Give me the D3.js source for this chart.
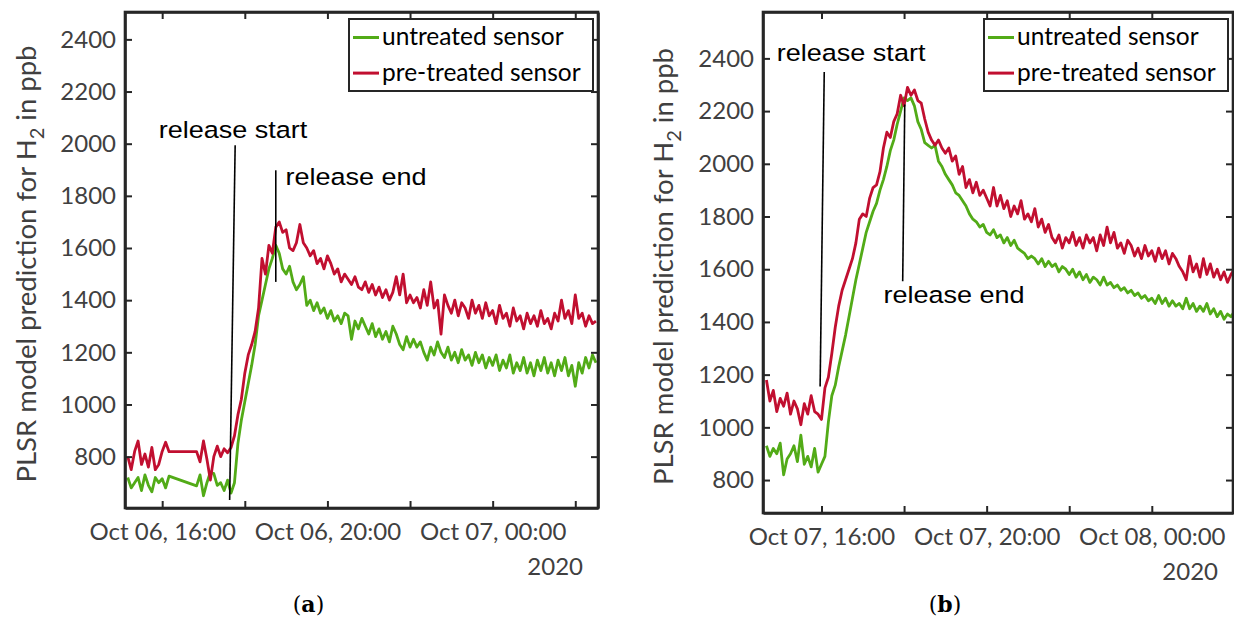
<!DOCTYPE html>
<html>
<head>
<meta charset="utf-8">
<script src="https://cdn.jsdelivr.net/npm/d3@7"></script>
<style>
  body { margin: 0; background: #fff; }
  svg { display: block; }
</style>
</head>
<body>
<script>
// ---- data (5 minute steps) ----
// panel (a): first sample Oct 06 15:10, null = no data (line bridges the gap)
var untreatedA = [
  720,680,700,720,670,730,690,665,720,700,
  715,680,725,null,null,null,null,null,null,null,
  688,730,650,700,740,735,690,700,670,710,
  660,700,850,940,1010,1080,1150,1230,1340,1400,
  1460,1520,1560,1610,1580,1520,1500,1530,1470,1440,
  1460,1490,1380,1400,1360,1390,1350,1370,1330,1360,
  1320,1340,1310,1350,1340,1250,1320,1290,1330,1300,
  1270,1310,1260,1290,1250,1280,1240,1300,1270,1230,
  1210,1260,1220,1250,1220,1240,1200,1170,1220,1190,
  1240,1200,1180,1220,1170,1200,1160,1210,1170,1190,
  1150,1200,1160,1190,1140,1180,1150,1190,1130,1170,
  1140,1190,1120,1160,1130,1180,1120,1160,1110,1170,
  1130,1180,1120,1160,1110,1170,1130,1180,1110,1150,
  1070,1160,1120,1180,1140,1190,1160
];
var pretreatedA = [
  800,750,820,860,770,810,760,835,750,770,
  820,855,819,null,null,null,null,null,null,null,
  819,780,860,790,710,800,840,800,830,815,
  835,880,960,1020,1120,1190,1230,1280,1370,1560,
  1500,1610,1580,1680,1700,1660,1670,1600,1590,1620,
  1690,1620,1600,1570,1590,1540,1560,1520,1570,1540,
  1500,1520,1470,1500,1480,1460,1490,1450,1440,1470,
  1430,1460,1420,1450,1410,1440,1400,1430,1490,1420,
  1500,1390,1420,1390,1410,1370,1440,1380,1470,1370,
  1400,1270,1420,1380,1350,1400,1340,1390,1370,1330,
  1400,1350,1380,1330,1390,1340,1360,1310,1380,1330,
  1350,1300,1370,1320,1340,1290,1350,1310,1340,1300,
  1360,1310,1330,1290,1350,1320,1400,1330,1360,1310,
  1420,1330,1350,1300,1340,1310,1320
];
// panel (b): first sample Oct 07 14:40
var untreatedB = [
  930,890,920,900,940,820,880,900,930,870,
  970,860,890,850,920,830,860,890,1020,1120,
  1160,1230,1290,1350,1420,1490,1560,1620,1680,1740,
  1780,1820,1850,1900,1940,1990,2050,2090,2150,2200,
  2250,2240,2250,2220,2160,2130,2080,2070,2060,2070,
  2010,1990,1960,1940,1920,1890,1880,1860,1840,1810,
  1790,1780,1760,1770,1740,1730,1750,1720,1730,1700,
  1720,1690,1710,1680,1670,1660,1640,1650,1640,1620,
  1640,1610,1630,1610,1620,1590,1610,1600,1580,1600,
  1570,1590,1560,1580,1550,1570,1560,1540,1570,1540,
  1550,1530,1540,1520,1530,1510,1520,1500,1510,1490,
  1500,1480,1490,1470,1500,1470,1490,1460,1480,1460,
  1470,1450,1490,1450,1470,1440,1460,1440,1470,1430,
  1450,1420,1440,1410,1430,1420,1440
];
var pretreatedB = [
  1180,1100,1140,1060,1110,1080,1130,1050,1100,1070,
  1010,1090,1050,1120,1060,1050,1030,1150,1190,1280,
  1380,1460,1520,1560,1600,1640,1700,1790,1810,1800,
  1870,1910,1920,1970,2060,2120,2100,2160,2190,2260,
  2220,2290,2260,2280,2240,2230,2170,2120,2090,2070,
  2090,2060,2040,2060,2010,2030,1960,1990,1910,1940,
  1890,1930,1880,1900,1870,1840,1910,1840,1880,1830,
  1860,1800,1840,1810,1860,1790,1810,1780,1830,1760,
  1790,1740,1770,1720,1700,1730,1680,1720,1700,1740,
  1690,1720,1680,1730,1700,1720,1670,1730,1690,1760,
  1700,1740,1680,1700,1660,1710,1690,1650,1680,1640,
  1690,1650,1670,1630,1680,1640,1670,1620,1660,1640,
  1610,1590,1560,1650,1590,1620,1570,1640,1580,1620,
  1570,1600,1560,1590,1550,1580,1600
];

var seriesNames = ["untreated sensor", "pre-treated sensor"];
var seriesColors = ["#52ab17", "#c10f30"];
var yTickValues = [800, 1000, 1200, 1400, 1600, 1800, 2000, 2200, 2400];
var xLabelsA = ["Oct 06, 16:00", "Oct 06, 20:00", "Oct 07, 00:00"];
var xLabelsB = ["Oct 07, 16:00", "Oct 07, 20:00", "Oct 08, 00:00"];
var yearLabel = "2020";
var yAxisTitle = "PLSR model prediction for H";

function dt(day, h, m) { return new Date(2020, 9, day, h, m); }

var W = 1234, H = 618;
var svg = d3.select("body").append("svg").attr("width", W).attr("height", H);

function toPoints(vals, start) {
  return vals.map(function(v, i) {
    return { t: new Date(start.getTime() + i * 5 * 60000), v: v };
  }).filter(function(d) { return d.v !== null; });
}

function drawPanel(p) {
  var x = d3.scaleTime().domain(p.xDomain).range([p.left, p.right]);
  var y = d3.scaleLinear().domain(p.yDomain).range([p.bottom, p.top]);
  var g = svg.append("g");

  g.append("clipPath").attr("id", p.id + "-clip").append("rect")
    .attr("x", p.left).attr("y", p.top)
    .attr("width", p.right - p.left).attr("height", p.bottom - p.top);

  var line = d3.line().x(function(d) { return x(d.t); }).y(function(d) { return y(d.v); });
  var plot = g.append("g").attr("clip-path", "url(#" + p.id + "-clip)");
  [p.untreated, p.pretreated].forEach(function(vals, k) {
    plot.append("path")
      .datum(toPoints(vals, p.start))
      .attr("d", line)
      .attr("fill", "none")
      .attr("stroke", seriesColors[k])
      .attr("stroke-width", 2.8)
      .attr("stroke-linejoin", "round");
  });

  // ticks every 2 h, labels every 4 h
  var ticks = p.ticks;
  function fmt(d, i) { return i % 2 === 0 ? p.xLabels[i / 2] || "" : ""; }

  var axB = g.append("g").attr("transform", "translate(0," + p.bottom + ")")
    .call(d3.axisBottom(x).tickValues(ticks).tickSizeInner(-7).tickSizeOuter(0).tickPadding(15).tickFormat(fmt));
  var axT = g.append("g").attr("transform", "translate(0," + p.top + ")")
    .call(d3.axisTop(x).tickValues(ticks).tickSizeInner(-7).tickSizeOuter(0).tickFormat(""));
  var axL = g.append("g").attr("transform", "translate(" + p.left + ",0)")
    .call(d3.axisLeft(y).tickValues(yTickValues).tickSizeInner(-7).tickSizeOuter(0).tickPadding(9).tickFormat(d3.format("d")));
  var axR = g.append("g").attr("transform", "translate(" + p.right + ",0)")
    .call(d3.axisRight(y).tickValues(yTickValues).tickSizeInner(-7).tickSizeOuter(0).tickFormat(""));

  [axB, axT, axL, axR].forEach(function(ax) {
    ax.select(".domain").attr("stroke", "#262626").attr("stroke-width", 2.6);
    ax.selectAll(".tick line").attr("stroke", "#262626").attr("stroke-width", 2);
    ax.selectAll("text").attr("fill", "#404040")
      .style("font-family", "Lato, sans-serif").style("font-size", "24px");
  });
  // square corners of the box
  g.append("rect").attr("x", p.left).attr("y", p.top)
    .attr("width", p.right - p.left).attr("height", p.bottom - p.top)
    .attr("fill", "none").attr("stroke", "#262626").attr("stroke-width", 2.6);

  g.append("text").text(yearLabel)
    .attr("x", p.right - 15).attr("y", p.bottom + p.yearDy)
    .attr("text-anchor", "end").attr("fill", "#404040")
    .style("font-family", "Lato, sans-serif").style("font-size", "24px");

  // y-axis title with subscript
  var yt = g.append("text")
    .attr("transform", "translate(" + p.titleX + "," + ((p.top + p.bottom) / 2 + 4) + ") rotate(-90)")
    .attr("text-anchor", "middle").attr("fill", "#404040")
    .style("font-family", "Lato, sans-serif").style("font-size", "27.5px");
  yt.append("tspan").text(yAxisTitle);
  yt.append("tspan").text("2").attr("dy", 8).style("font-size", "20px");
  yt.append("tspan").text(" in ppb").attr("dy", -8);

  // release annotations
  p.marks.forEach(function(m) {
    g.append("line")
      .attr("x1", x(m.t1)).attr("y1", y(m.v1))
      .attr("x2", x(m.t2)).attr("y2", y(m.v2))
      .attr("stroke", "#000").attr("stroke-width", 1.6);
    g.append("text").text(m.label)
      .attr("transform", "translate(" + x(m.tl) + "," + y(m.vl) + ") scale(1.15,1)")
      .attr("fill", "#000")
      .style("font-family", "'Liberation Sans', Arial, sans-serif").style("font-size", "23.5px");
  });

  // legend
  var lx = p.right - 249, ly = p.top + 7;
  var lg = g.append("g");
  lg.append("rect").attr("x", lx).attr("y", ly).attr("width", 244).attr("height", 72)
    .attr("fill", "#fff").attr("stroke", "#262626").attr("stroke-width", 2);
  seriesNames.forEach(function(name, k) {
    var ry = ly + 18.5 + k * 35.6;
    lg.append("line").attr("x1", lx + 4).attr("x2", lx + 30).attr("y1", ry).attr("y2", ry)
      .attr("stroke", seriesColors[k]).attr("stroke-width", 3);
    lg.append("text").text(name).attr("x", lx + 33).attr("y", ry + 7.5)
      .attr("fill", "#000")
      .style("font-family", "Lato, sans-serif").style("font-size", "24.5px");
  });

  // sub-figure caption
  var cap = g.append("text").attr("x", (p.left + p.right) / 2 - 53).attr("y", 612)
    .attr("text-anchor", "middle").attr("fill", "#000")
    .style("font-family", "'DejaVu Serif', serif").style("font-size", "22px");
  cap.append("tspan").text("(");
  cap.append("tspan").text(p.caption).style("font-weight", "bold");
  cap.append("tspan").text(")");
}

function hourTicks(day, fromHour, count) {
  var out = [];
  for (var i = 0; i < count; i++) out.push(dt(day, fromHour + 2 * i, 0));
  return out;
}

drawPanel({
  id: "pa", caption: "a",
  left: 125, right: 598, top: 12, bottom: 508,
  xDomain: [dt(6, 15, 6), dt(7, 2, 33)], yDomain: [603, 2505],
  start: dt(6, 15, 10), untreated: untreatedA, pretreated: pretreatedA,
  ticks: hourTicks(6, 16, 6), xLabels: xLabelsA, yearDy: 67, titleX: 36,
  marks: [
    { label: "release start", t1: dt(6, 17, 46.6), v1: 1994, t2: dt(6, 17, 38.4), v2: 634, tl: dt(6, 15, 55.5), vl: 2020 },
    { label: "release end", t1: dt(6, 18, 45.2), v1: 1898, t2: dt(6, 18, 45.2), v2: 1470, tl: dt(6, 18, 59.3), vl: 1840 }
  ]
});

drawPanel({
  id: "pb", caption: "b",
  left: 763, right: 1233, top: 12, bottom: 513,
  xDomain: [dt(7, 14, 35.8), dt(8, 1, 58)], yDomain: [675, 2576],
  start: dt(7, 14, 40), untreated: untreatedB, pretreated: pretreatedB,
  ticks: hourTicks(7, 16, 6), xLabels: xLabelsB, yearDy: 67, titleX: 673,
  marks: [
    { label: "release start", t1: dt(7, 16, 4.4), v1: 2348, t2: dt(7, 15, 58.5), v2: 1155, tl: dt(7, 14, 55.7), vl: 2390 },
    { label: "release end", t1: dt(7, 18, 1.9), v1: 2225, t2: dt(7, 17, 58), v2: 1554, tl: dt(7, 17, 30.4), vl: 1471 }
  ]
});
</script>
</body>
</html>
